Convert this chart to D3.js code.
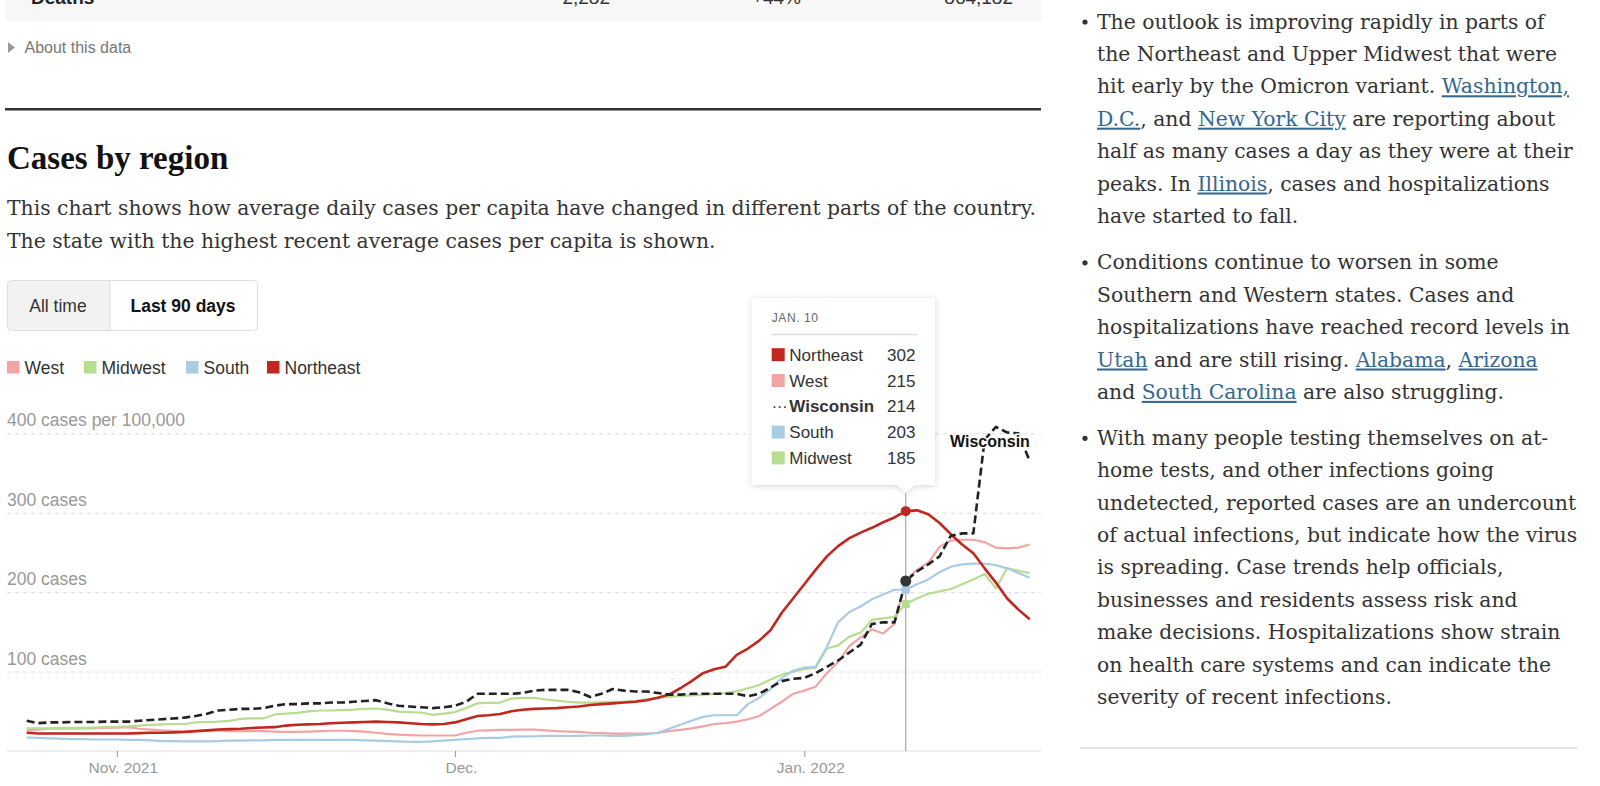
<!DOCTYPE html>
<html>
<head>
<meta charset="utf-8">
<script src="https://cdnjs.cloudflare.com/ajax/libs/d3/7.8.5/d3.min.js"></script>
<style>
  body { margin: 0; background: #fff; }
  svg text { font-family: "Liberation Sans", Arial, sans-serif; }
  svg text.serif { font-family: "DejaVu Serif", Georgia, serif; }
</style>
</head>
<body>
<script>
// average daily cases per 100,000, one value a day from Oct. 24, 2021 to Jan. 21, 2022
var startDate = new Date(2021, 9, 24);

var west = [26, 27, 28, 28, 28, 28.5, 28.5, 29, 29.5, 30,
  28, 27, 26, 25.5, 25, 25, 25.5, 25.5, 25, 25,
  25, 25, 24.5, 24, 24, 24.5, 25, 25.5, 25.5, 25,
  24.5, 23, 21.5, 20.5, 20, 19.5, 19.5, 19.5, 19.5, 23,
  25.5, 26, 26.5, 26.5, 27, 27, 26, 25, 24.5, 24,
  23, 22.5, 22, 22, 22, 22, 23, 25, 26.5, 28.5,
  31, 34, 35, 37, 40, 44, 53, 62, 72, 76,
  81, 98, 112, 132, 143, 153, 148, 160, 215, 228,
  237, 257, 265, 266, 266, 263, 256, 255, 256, 260];

var midwest = [28.5, 28.5, 28.5, 29, 29, 29, 29.5, 30, 30.5, 31,
  32, 33, 33.5, 34, 34, 36, 36.5, 37, 38, 40.5,
  41, 41, 46, 47, 48, 50, 51, 51, 51.5, 52,
  53, 53.5, 52, 49.5, 49, 48.5, 45.5, 47, 49, 54,
  60, 60.5, 61, 66, 67, 67, 65, 63.5, 62, 61,
  61, 61.5, 62, 62, 63, 65, 67, 68, 69, 70,
  71, 72, 73, 75, 79, 83, 90, 96, 100, 103,
  105, 129, 133, 144, 149, 165, 167, 169, 185, 192,
  198, 201, 204, 210, 216, 223, 205, 230, 227, 224];

var south = [17, 16.5, 16, 15.5, 15, 15, 14.5, 14.5, 14.5, 14,
  14, 13.5, 12.5, 12.5, 12, 12, 12, 12.5, 13, 13,
  13.5, 13.5, 14, 14, 14, 14, 14, 14, 14, 14,
  13.5, 13, 12.5, 12, 11.5, 11.5, 12, 13, 14, 15,
  16, 16.5, 16.5, 18, 18.5, 18.5, 19, 19, 19, 19,
  19.5, 19.5, 19, 19, 20, 21, 23, 28, 33, 38,
  43, 45, 45, 45, 59, 67, 78, 92, 101, 105,
  106, 131, 162, 175, 182, 191, 197, 203, 203, 210,
  216, 225, 232, 235, 236, 236, 234, 230, 224, 218];

var northeast = [23, 22, 22, 22, 22, 22, 22, 22, 22, 22,
  22.5, 23, 23, 23.5, 24, 25, 26, 27, 27.5, 28,
  29, 29.5, 30, 32, 33, 33.5, 34, 35, 35.5, 36,
  36.5, 37, 36.5, 36, 35, 34, 33.5, 34, 36, 40,
  44, 45, 46.5, 50, 52, 53, 53.5, 54, 55, 56,
  58, 59, 60, 61, 62, 64, 67, 71, 79, 88,
  98, 103, 106, 121, 129, 139, 152, 174, 192, 210,
  228, 245, 258, 268, 275, 281, 288, 294, 302, 303,
  298, 287, 273, 260, 249, 230, 212, 192, 178, 166];

var wisconsin = [38, 35, 36, 36, 36.5, 36.5, 36.5, 37, 37, 37,
  38, 39, 40, 41, 42, 44, 47, 51, 52, 53,
  53, 54, 57, 59, 59, 60, 60, 61, 61, 62,
  63, 64, 60, 57, 56, 55, 54, 55, 57, 62,
  72, 72, 72, 72, 73, 76, 77, 77, 77, 74,
  68, 72, 78, 76, 75, 75, 73, 71, 71, 72,
  72, 72, 72, 72, 69, 72, 80, 88, 91, 92,
  98, 106, 114, 124, 134, 160, 162, 162, 214, 226,
  235, 245, 271, 274, 274, 392, 408, 401, 400, 365];

var regionNames = ["West", "Midwest", "South", "Northeast"];
var stateName = "Wisconsin";

var tickDates = [new Date(2021, 10, 1), new Date(2021, 11, 1), new Date(2022, 0, 1)];
var tickLabels = ["Nov. 2021", "Dec.", "Jan. 2022"];
var yTicks = [100, 200, 300, 400];
var yLabels = ["100 cases", "200 cases", "300 cases", "400 cases per 100,000"];

// the day the tooltip is showing
var hoverIndex = 78;
var hoverLabel = "JAN. 10";

var colors = {
  "West": "#f2a4a4",
  "Midwest": "#b7dd90",
  "South": "#a9cce3",
  "Northeast": "#c1271f",
  "Wisconsin": "#222"
};

window.onload = function() {

  var series = {
    "West": west,
    "Midwest": midwest,
    "South": south,
    "Northeast": northeast,
    "Wisconsin": wisconsin
  };
  var dates = west.map(function(d, i) {
    return d3.timeDay.offset(startDate, i);
  });

  var svg = d3.select("body")
    .append("svg")
    .attr("width", 1600)
    .attr("height", 786);

  // shadow for the tooltip
  var filter = svg.append("defs")
    .append("filter")
    .attr("id", "shadow")
    .attr("x", "-20%").attr("y", "-20%")
    .attr("width", "140%").attr("height", "140%");
  filter.append("feDropShadow")
    .attr("dx", 0).attr("dy", 1)
    .attr("stdDeviation", 3)
    .attr("flood-color", "#000")
    .attr("flood-opacity", 0.16);

  // bottom of the table above, cut off by the screenshot
  svg.append("rect")
    .attr("x", 5).attr("y", 0)
    .attr("width", 1036).attr("height", 21)
    .attr("fill", "#f7f7f7");
  svg.append("text")
    .attr("x", 31).attr("y", 4)
    .style("font-size", "19px").style("font-weight", "bold")
    .attr("fill", "#222")
    .text("Deaths");
  var cut = [["2,282", 610], ["+44%", 801], ["864,182", 1013]];
  cut.forEach(function(c) {
    svg.append("text")
      .attr("x", c[1]).attr("y", 4)
      .attr("text-anchor", "end")
      .style("font-size", "19px")
      .attr("fill", "#333")
      .text(c[0]);
  });

  // about this data
  svg.append("path")
    .attr("d", "M8,42 L15,47.5 L8,53 Z")
    .attr("fill", "#999");
  svg.append("text")
    .attr("x", 24.5).attr("y", 52.5)
    .style("font-size", "16px")
    .attr("fill", "#777")
    .text("About this data");

  // thick rule
  svg.append("rect")
    .attr("x", 5).attr("y", 108)
    .attr("width", 1036).attr("height", 2.5)
    .attr("fill", "#333");

  // title and description
  svg.append("text")
    .attr("class", "serif")
    .attr("x", 7).attr("y", 169)
    .style("font-family", "'Liberation Serif', 'Times New Roman', serif")
    .style("font-size", "33px").style("font-weight", "bold")
    .attr("fill", "#121212")
    .text("Cases by region");

  var desc = ["This chart shows how average daily cases per capita have changed in different parts of the country.",
    "The state with the highest recent average cases per capita is shown."];
  var descText = svg.selectAll(".desc")
    .data(desc)
    .enter()
    .append("text")
    .attr("class", "serif desc")
    .attr("x", 7)
    .attr("y", function(d, i) { return 215 + i * 33; })
    .style("font-size", "20px")
    .attr("fill", "#333")
    .text(function(d) { return d; });

  // scale the body font so the first line spans like the original
  var bodySize = 20 * 1029 / descText.node().getComputedTextLength();
  descText.style("font-size", bodySize + "px");

  // buttons
  svg.append("rect")
    .attr("x", 7.5).attr("y", 280.5)
    .attr("width", 250).attr("height", 50)
    .attr("rx", 4)
    .attr("fill", "#fff")
    .attr("stroke", "#ddd");
  svg.append("path")
    .attr("d", "M110,281 H11.5 A4,4 0 0 0 8,285 V326 A4,4 0 0 0 11.5,330 H110 Z")
    .attr("fill", "#f2f2f2");
  svg.append("line")
    .attr("x1", 110).attr("x2", 110)
    .attr("y1", 281).attr("y2", 330)
    .attr("stroke", "#ddd");
  svg.append("text")
    .attr("x", 58).attr("y", 312)
    .attr("text-anchor", "middle")
    .style("font-size", "17.5px")
    .attr("fill", "#333")
    .text("All time");
  svg.append("text")
    .attr("x", 183).attr("y", 312)
    .attr("text-anchor", "middle")
    .style("font-size", "17.5px").style("font-weight", "bold")
    .attr("fill", "#121212")
    .text("Last 90 days");

  // legend
  var legendX = [7, 84, 186, 267];
  var legend = svg.selectAll(".legend")
    .data(regionNames)
    .enter()
    .append("g")
    .attr("class", "legend")
    .attr("transform", function(d, i) { return "translate(" + legendX[i] + ",361)"; });
  legend.append("rect")
    .attr("width", 12.5).attr("height", 12.5)
    .attr("fill", function(d) { return colors[d]; });
  legend.append("text")
    .attr("x", 17.5).attr("y", 12.5)
    .style("font-size", "17.5px")
    .attr("fill", "#333")
    .text(function(d) { return d; });

  // scales
  var xScale = d3.scaleTime()
    .domain([dates[0], dates[dates.length - 1]])
    .range([26.7, 1029.7]);
  var yScale = d3.scaleLinear()
    .domain([0, 400])
    .range([751, 433.3]);

  // dashed gridlines
  var grid = svg.append("g")
    .attr("class", "grid")
    .attr("transform", "translate(7,0)")
    .call(d3.axisRight(yScale).tickValues(yTicks).tickSize(1034).tickFormat(""));
  grid.select(".domain").remove();
  grid.selectAll("line")
    .attr("stroke", "#ddd")
    .attr("stroke-dasharray", "4,4");

  // y labels above the gridlines
  svg.selectAll(".ylabel")
    .data(yTicks)
    .enter()
    .append("text")
    .attr("class", "ylabel")
    .attr("x", 7)
    .attr("y", function(d) { return yScale(d) - 7; })
    .style("font-size", "17.5px")
    .attr("fill", "#999")
    .text(function(d, i) { return yLabels[i]; });

  // baseline and x axis
  svg.append("line")
    .attr("x1", 7).attr("x2", 1041)
    .attr("y1", yScale(0)).attr("y2", yScale(0))
    .attr("stroke", "#ddd");
  var xAxis = svg.append("g")
    .attr("class", "x axis")
    .attr("transform", "translate(0," + yScale(0) + ")")
    .call(d3.axisBottom(xScale)
      .tickValues(tickDates)
      .tickSize(6)
      .tickPadding(5)
      .tickFormat(function(d, i) { return tickLabels[i]; }));
  xAxis.select(".domain").remove();
  xAxis.selectAll("line").attr("stroke", "#999");
  xAxis.selectAll("text")
    .attr("dx", 6)
    .style("font-family", "'Liberation Sans', Arial, sans-serif")
    .style("font-size", "15.5px")
    .attr("fill", "#999");

  // lines
  var line = d3.line()
    .x(function(d, i) { return xScale(dates[i]); })
    .y(function(d) { return yScale(d); });

  var order = ["West", "Midwest", "South", "Northeast", "Wisconsin"];
  order.forEach(function(name) {
    svg.append("path")
      .datum(series[name])
      .attr("fill", "none")
      .attr("stroke", colors[name])
      .attr("stroke-width", name == "Northeast" || name == "Wisconsin" ? 2.6 : 2.2)
      .attr("stroke-dasharray", name == "Wisconsin" ? "8,4" : null)
      .attr("stroke-linejoin", "round")
      .attr("d", line);
  });

  // label for the state line
  svg.append("text")
    .attr("x", 950).attr("y", 447)
    .style("font-size", "16px").style("font-weight", "bold")
    .attr("fill", "#121212")
    .attr("stroke", "#fff").attr("stroke-width", 3)
    .attr("paint-order", "stroke")
    .text(stateName);

  // hover line and markers
  var hx = xScale(dates[hoverIndex]);
  svg.append("line")
    .attr("x1", hx).attr("x2", hx)
    .attr("y1", 493).attr("y2", yScale(0))
    .attr("stroke", "#999");

  ["West", "South", "Midwest"].forEach(function(name) {
    svg.append("rect")
      .attr("x", hx - 4).attr("y", yScale(series[name][hoverIndex]) - 4)
      .attr("width", 8).attr("height", 8)
      .attr("fill", colors[name]);
  });
  svg.append("circle")
    .attr("cx", hx).attr("cy", yScale(northeast[hoverIndex]))
    .attr("r", 5)
    .attr("fill", colors["Northeast"]);
  svg.append("circle")
    .attr("cx", hx).attr("cy", yScale(wisconsin[hoverIndex]))
    .attr("r", 5.5)
    .attr("fill", "#333");

  // tooltip
  svg.append("path")
    .attr("d", "M751.7,298 H935 V485 H" + (hx + 8.7) + " L" + hx + ",492 L" + (hx - 8.7) + ",485 H751.7 Z")
    .attr("fill", "#fff")
    .attr("filter", "url(#shadow)");
  svg.append("text")
    .attr("x", 771.7).attr("y", 321.5)
    .style("font-size", "12px")
    .style("letter-spacing", "0.6px")
    .attr("fill", "#666")
    .text(hoverLabel);
  svg.append("line")
    .attr("x1", 771.7).attr("x2", 917)
    .attr("y1", 334.5).attr("y2", 334.5)
    .attr("stroke", "#ddd").attr("stroke-width", 1.5);

  var rows = order.slice()
    .sort(function(a, b) { return series[b][hoverIndex] - series[a][hoverIndex]; });
  var row = svg.selectAll(".row")
    .data(rows)
    .enter()
    .append("g")
    .attr("class", "row")
    .attr("transform", function(d, i) { return "translate(771.7," + (354.7 + i * 25.8) + ")"; });
  row.filter(function(d) { return d != stateName; })
    .append("rect")
    .attr("y", -6.5)
    .attr("width", 13).attr("height", 13)
    .attr("fill", function(d) { return colors[d]; });
  row.filter(function(d) { return d == stateName; })
    .append("text")
    .attr("y", 6)
    .style("font-size", "16px")
    .attr("fill", "#333")
    .text("\u00b7\u00b7\u00b7");
  row.append("text")
    .attr("x", 17.6).attr("y", 6)
    .style("font-size", "17px")
    .style("font-weight", function(d) { return d == stateName ? "bold" : "normal"; })
    .attr("fill", "#333")
    .text(function(d) { return d; });
  row.append("text")
    .attr("x", 143.8).attr("y", 6)
    .attr("text-anchor", "end")
    .style("font-size", "17px")
    .attr("fill", "#333")
    .text(function(d) { return Math.round(series[d][hoverIndex]); });

  // right column of bullet points, links are marked with 1
  var bullets = [
    [
      [["The outlook is improving rapidly in parts of"]],
      [["the Northeast and Upper Midwest that were"]],
      [["hit early by the Omicron variant. "], ["Washington,", 1]],
      [["D.C.", 1], [", and "], ["New York City", 1], [" are reporting about"]],
      [["half as many cases a day as they were at their"]],
      [["peaks. In "], ["Illinois", 1], [", cases and hospitalizations"]],
      [["have started to fall."]]
    ],
    [
      [["Conditions continue to worsen in some"]],
      [["Southern and Western states. Cases and"]],
      [["hospitalizations have reached record levels in"]],
      [["Utah", 1], [" and are still rising. "], ["Alabama", 1], [", "], ["Arizona", 1]],
      [["and "], ["South Carolina", 1], [" are also struggling."]]
    ],
    [
      [["With many people testing themselves on at-"]],
      [["home tests, and other infections going"]],
      [["undetected, reported cases are an undercount"]],
      [["of actual infections, but indicate how the virus"]],
      [["is spreading. Case trends help officials,"]],
      [["businesses and residents assess risk and"]],
      [["make decisions. Hospitalizations show strain"]],
      [["on health care systems and can indicate the"]],
      [["severity of recent infections."]]
    ]
  ];
  var bulletTop = [28.5, 269.3, 444.8];

  bullets.forEach(function(b, bi) {
    svg.append("circle")
      .attr("cx", 1085).attr("cy", bulletTop[bi] - 6.5)
      .attr("r", 2.6)
      .attr("fill", "#333");
    b.forEach(function(l, li) {
      var t = svg.append("text")
        .attr("class", "serif")
        .attr("x", 1097)
        .attr("y", bulletTop[bi] + li * 32.4)
        .style("font-size", bodySize + "px")
        .attr("fill", "#333");
      l.forEach(function(seg) {
        t.append("tspan")
          .attr("fill", seg[1] ? "#326891" : "#333")
          .style("text-decoration", seg[1] ? "underline" : "none")
          .text(seg[0]);
      });
    });
  });

  // rule at the bottom of the right column
  svg.append("rect")
    .attr("x", 1080).attr("y", 747)
    .attr("width", 497).attr("height", 2)
    .attr("fill", "#e2e2e2");
};
</script>
</body>
</html>
